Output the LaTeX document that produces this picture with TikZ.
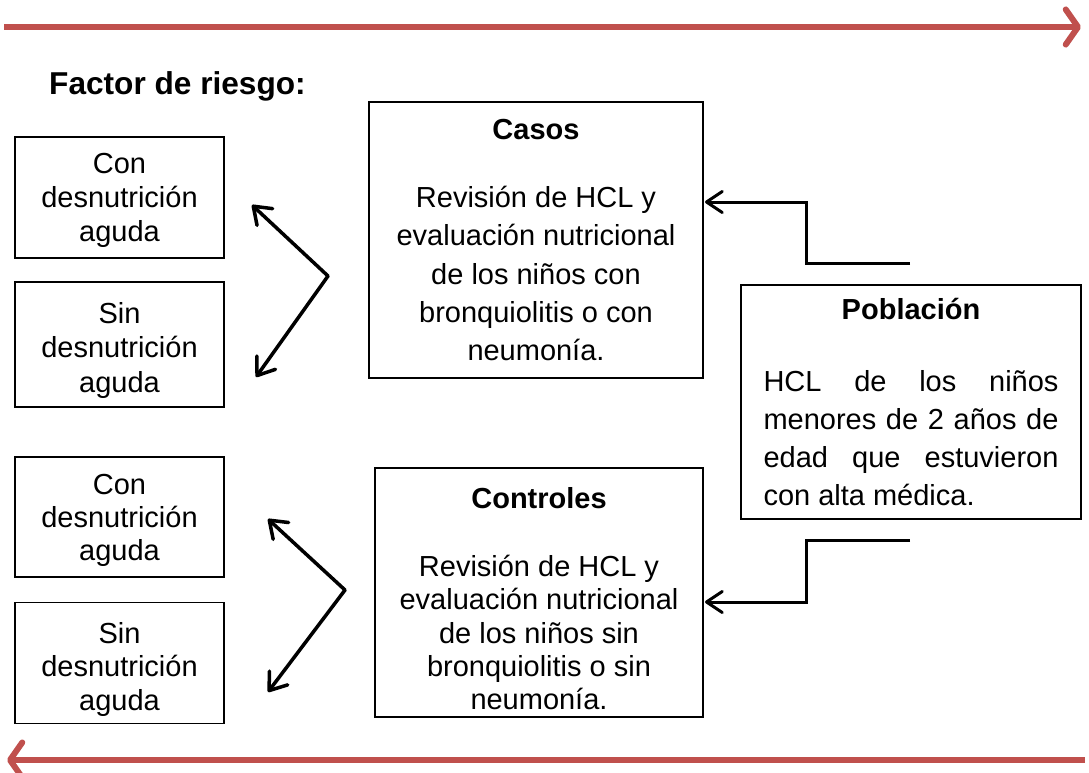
\documentclass[tikz,border=0pt]{standalone}
\usepackage{fontspec}
\setmainfont{Liberation Sans}
\usetikzlibrary{arrows.meta}
\definecolor{redline}{HTML}{C0504D}
\tikzset{
  px/.style={x=0.02cm,y=-0.02cm},
  box/.style={draw, line width=1.1pt, inner sep=0pt, align=center,
    font=\fontsize{16.5}{19.8}\selectfont},
  smallbox/.style={box, minimum width=4.18cm, minimum height=2.42cm},
  blk/.style={line width=2pt, line cap=round, line join=round,
    -{Straight Barb[length=9pt,width=13pt,line cap=round,line join=round]}},
  conn/.style={line width=1.7pt, line join=miter,
    -{Straight Barb[length=9pt,width=12pt,line cap=round,line join=round]}},
  redarrow/.style={draw=redline, line width=3.4pt,
    -{Straight Barb[length=7pt,width=20pt,line cap=round,line join=round]}},
  titlefont/.style={font=\fontsize{18}{22}\selectfont\bfseries}
}
\begin{document}
\begin{tikzpicture}[px]
\useasboundingbox (0,0) rectangle (1089,772);
% red arrows
\coordinate (ta) at (4,27);
\coordinate (tb) at (1081,27);
\draw[redarrow] (ta) -- (tb);
\coordinate (ba) at (1085,760);
\coordinate (bb) at (7,760);
\draw[redarrow] (ba) -- (bb);
% title
\node[titlefont, anchor=base west] (factor) at (43,94) {Factor de riesgo:};
% left boxes
\node[smallbox, font=\fontsize{16.5}{19.3}\selectfont] (c1) at (119.5,197.5) {\rule{0pt}{15pt}Con\\desnutrición\\aguda};
\node[smallbox, minimum height=2.5cm] (s1) at (119.5,344.5) {\rule{0pt}{18.7pt}Sin\\desnutrición\\aguda};
\node[smallbox, minimum height=2.4cm, font=\fontsize{16.5}{19}\selectfont] (c2) at (119.5,517) {\rule{0pt}{15.3pt}Con\\desnutrición\\aguda};
\node[smallbox, font=\fontsize{16.5}{19.3}\selectfont] (s2) at (119.5,663) {\rule{0pt}{19.3pt}Sin\\desnutrición\\aguda};
% Casos
\node[box, minimum width=6.68cm, minimum height=5.52cm, font=\fontsize{16.5}{21.8}\selectfont] (casos) at (536,240)
  {\textbf{Casos}\\[17.2pt]Revisión de HCL y\\evaluación nutricional\\de los niños con\\bronquiolitis o con\\neumonía.};
% Controles
\node[box, minimum width=6.56cm, minimum height=4.98cm, font=\fontsize{16.5}{19}\selectfont] (controles) at (539,592.5)
  {\rule{0pt}{19.3pt}\textbf{Controles}\\[19.5pt]Revisión de HCL y\\evaluación nutricional\\de los niños sin\\bronquiolitis o sin\\neumonía.};
% Poblacion
\node[box, minimum width=6.8cm, minimum height=4.68cm, text width=5.9cm, align=justify, font=\fontsize{16.5}{21.5}\selectfont] (pob) at (911,402)
  {\makebox[\linewidth][c]{\bfseries Población}\\[19.3pt]HCL de los niños\linebreak menores de 2 años de\linebreak edad que estuvieron\linebreak con alta médica.};
% black chevrons
\coordinate (v1) at (328,276);
\coordinate (v1a) at (252,205);
\coordinate (v1b) at (256,377);
\draw[blk] (v1) -- (v1a);
\draw[blk] (v1) -- (v1b);
\coordinate (v2) at (345,590);
\coordinate (v2a) at (268,519);
\coordinate (v2b) at (268,692);
\draw[blk] (v2) -- (v2a);
\draw[blk] (v2) -- (v2b);
% connectors
\coordinate (p1) at (910,263);
\coordinate (k1) at (806,263);
\coordinate (e1) at (705,202);
\draw[conn] (p1) -- (k1) |- (e1);
\coordinate (p2) at (910,540);
\coordinate (k2) at (806,540);
\coordinate (e2) at (705,602);
\draw[conn] (p2) -- (k2) |- (e2);
\end{tikzpicture}
\end{document}
